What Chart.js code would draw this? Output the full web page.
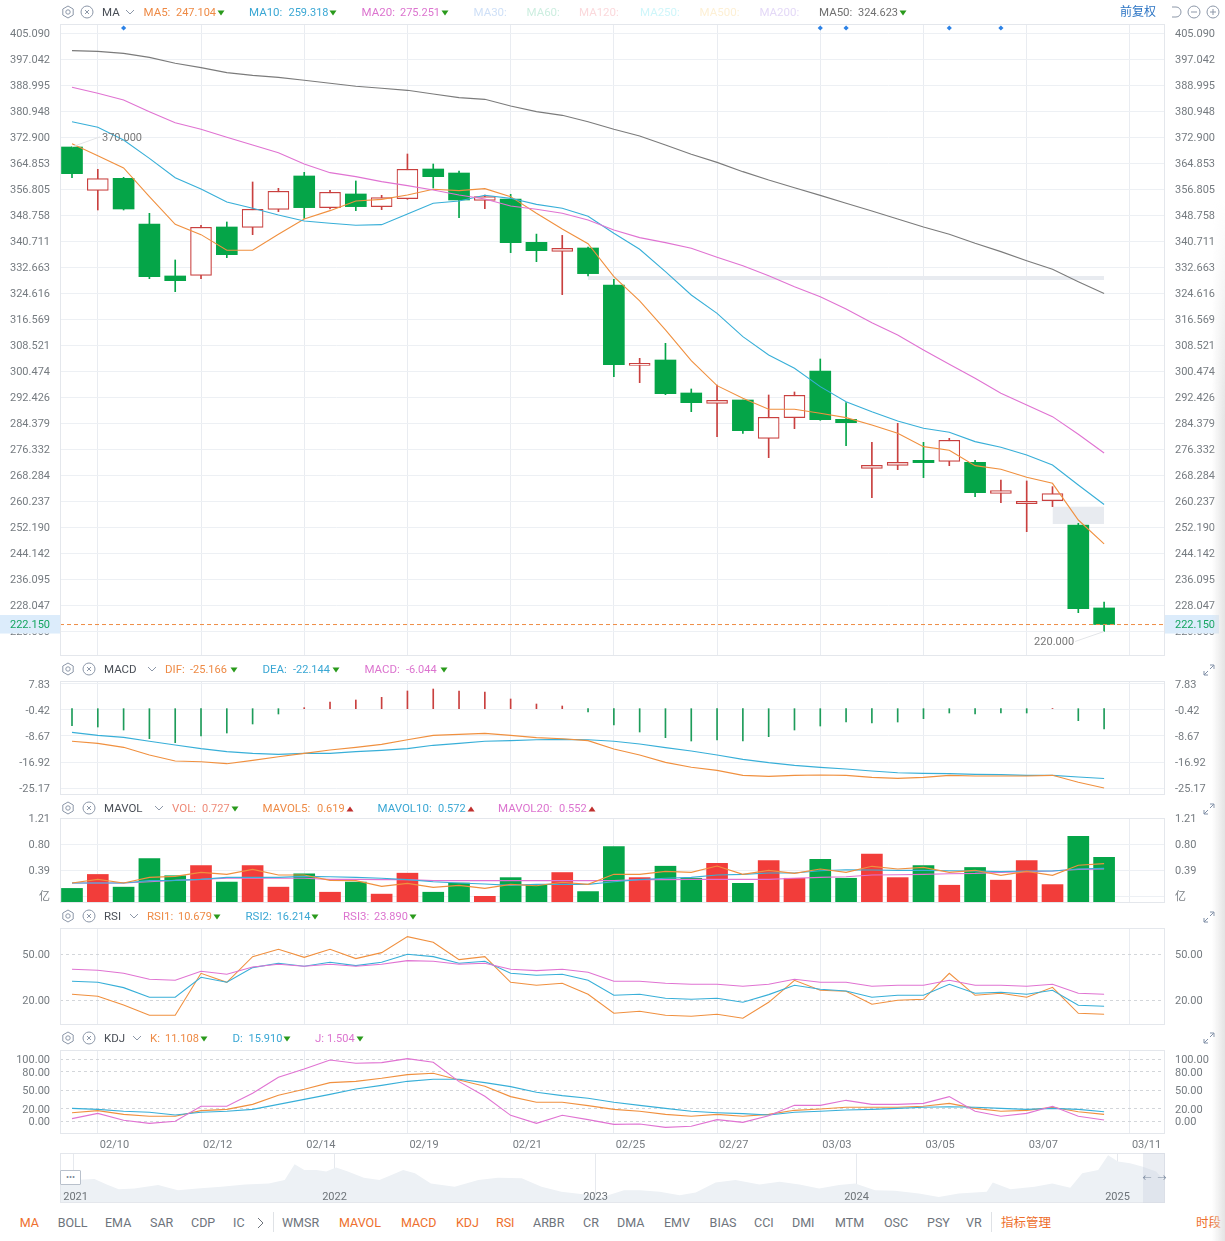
<!DOCTYPE html>
<html><head><meta charset="utf-8">
<script src="https://cdn.jsdelivr.net/npm/chart.js@4"></script>
<style>
html,body{margin:0;padding:0;background:#fff;width:1225px;height:1241px;overflow:hidden;font-family:Roboto,"Noto Sans CJK SC",sans-serif}
canvas{position:absolute;left:0}
svg{display:block}
.t{position:absolute;line-height:16px;white-space:nowrap}
.i{position:absolute}
</style></head><body>
<script>
// ---------- shared x positions ----------
const dayIndex=[0,1,2,3,4,5,6,7,8,9,10,11,12,13,14,15,16,17,18,19,20,21,22,23,24,25,26,27,28,29,30,31,32,33,34,35,36,37,38,39,40];
const xTickIndex=[1,5,9,13,17,21,25,29,33,37,41];
const xTickLabels=['02/10','02/12','02/14','02/19','02/21','02/25','02/27','03/03','03/05','03/07','03/11'];
// ---------- candles ----------
const open=[369.96,356.55,360.26,346.13,330.04,330.24,345.2,345.1,350.67,360.99,351.19,355.42,351.5,353.97,363.15,361.91,353.46,353.87,340.46,337.67,338.7,327.25,302.38,304.03,293.82,290.62,291.65,279.79,286.19,300.63,285.67,270.5,271.43,272.98,272.67,272.36,262.77,259.57,260.5,252.97,227.28];
const close=[361.71,360.16,350.77,329.83,328.59,345.1,336.64,350.67,356.24,351.19,355.93,351.5,354.28,363.05,360.78,353.56,354.59,340.35,337.87,338.6,330.76,302.59,303.0,293.61,290.83,291.55,282.16,286.29,293.1,285.57,284.64,271.43,272.36,272.26,279.17,262.97,263.59,260.29,262.66,227.07,222.15];
const high=[370,363.05,360.57,349.43,334.99,345.72,346.75,359.13,357.17,362.12,356.55,359.44,355.0,367.79,364.7,362.53,355.1,355.31,343.0,342.6,339.0,329.0,304.55,309.19,295.06,296.3,291.65,293.2,294.13,304.34,290.83,278.55,284.43,278.55,279.79,272.98,266.9,266.59,264.83,253.48,229.13];
const low=[360.47,350.46,350.46,329.21,325.18,329.21,335.71,342.83,349.95,347.88,350.77,350.26,350.57,353.76,357.27,348.09,350.87,337.26,334.47,324.26,330.04,298.87,297.02,293.3,288.04,280.3,281.34,273.8,282.78,285.36,277.52,261.43,270.09,267.62,271.33,261.73,259.88,250.9,258.64,225.83,220.0];
const ma5=[370.99,367.28,363.46,354.59,346.03,342.83,337.98,337.98,342.93,347.68,350.26,353.25,353.76,355.1,356.86,356.45,357.07,354.59,349.43,344.58,340.04,329.83,322.3,313.32,303.83,296.09,292.17,288.77,288.77,287.53,286.19,283.92,281.34,277.21,276.08,271.33,270.19,267.72,265.86,254.5,247.1];
const ma10=[377.8,376.05,372.13,366.45,360.47,356.96,352.94,350.98,348.92,347.06,346.34,345.72,345.92,349.22,352.53,353.25,355.0,354.07,352.2,350.98,348.5,343.24,338.29,331.38,324.16,318.48,311.26,305.58,301.46,295.78,291.14,288.04,285.15,282.88,281.65,278.76,277.0,274.63,271.53,265.35,259.32];
const ma20=[388.43,386.57,384.51,380.9,377.49,375.43,372.95,370.58,368.21,364.7,362.02,360.78,359.23,357.99,356.65,355.1,353.87,351.7,350.67,349.43,347.37,344.27,341.9,340.35,338.6,335.81,333.23,330.14,326.73,323.64,319.82,315.59,311.77,307.13,302.69,298.36,293.72,290.11,286.5,281.03,275.25];
const ma50=[399.78,399.57,398.95,397.71,395.86,394.52,392.97,392.14,391.52,390.6,389.67,388.74,388.12,387.5,386.37,385.23,384.71,382.65,380.9,379.76,377.8,375.43,373.37,370.58,367.69,365.2,362.33,359.75,357.37,354.98,352.53,350.15,347.68,345.2,342.93,340.15,337.57,334.78,332.1,328.28,324.62];
const priceTicks=[405.09,397.042,388.995,380.948,372.9,364.853,356.805,348.758,340.711,332.663,324.616,316.569,308.521,300.474,292.426,284.379,276.332,268.284,260.237,252.19,244.142,236.095,228.047,220];
const lastPrice=222.15;
const gapFrom=[20,38], gapTo=[40,40], gapTop=[330.03,258.64], gapBottom=[328.8,253.28];
const eventIndex=[2,29,30,34,36];
const eventLevel=406.79;
// ---------- MACD ----------
const dif=[-10.36,-11.0,-12.27,-14.7,-16.6,-16.82,-17.45,-16.39,-15.23,-14.17,-13.11,-12.27,-11.32,-9.84,-8.46,-8.14,-7.83,-8.46,-9.2,-9.52,-10.15,-12.8,-14.7,-17.03,-18.61,-19.57,-21.15,-21.47,-21.15,-21.05,-21.15,-21.79,-22.1,-21.79,-21.15,-21.36,-21.36,-21.36,-21.15,-23.37,-25.17];
const dea=[-7.51,-8.46,-9.1,-10.36,-11.53,-12.69,-13.64,-14.17,-14.49,-14.17,-14.17,-13.64,-13.22,-12.69,-11.63,-11.0,-10.36,-10.15,-9.84,-9.73,-9.84,-10.36,-11.21,-12.37,-13.43,-14.7,-16.08,-17.13,-17.98,-18.61,-19.14,-19.78,-20.31,-20.52,-20.62,-20.84,-20.94,-21.15,-21.15,-21.68,-22.14];
const macdHist=[-5.39,-5.82,-6.77,-9.52,-10.79,-8.67,-7.72,-4.86,-1.69,0.32,2.12,2.75,3.6,5.61,6.24,5.61,5.29,3.07,1.48,0.85,-1.06,-5.18,-7.4,-9.2,-10.26,-9.94,-10.26,-8.88,-6.77,-5.5,-4.23,-4.55,-4.23,-3.17,-1.37,-1.69,-1.37,-1.37,0.05,-3.81,-6.45];
const macdTicks=[7.83,-0.42,-8.67,-16.92,-25.17];
// ---------- MAVOL ----------
const vol=[0.10,0.32,0.12,0.57,0.30,0.46,0.20,0.46,0.12,0.33,0.04,0.20,0.01,0.34,0.04,0.185,-0.025,0.27,0.16,0.35,0.05,0.76,0.27,0.45,0.26,0.495,0.18,0.54,0.26,0.56,0.26,0.64,0.27,0.46,0.15,0.43,0.23,0.54,0.16,0.92,0.59];
const mavol5=[0.185,0.243,0.185,0.274,0.29,0.353,0.322,0.40,0.311,0.311,0.227,0.222,0.132,0.18,0.117,0.148,0.101,0.164,0.143,0.196,0.164,0.322,0.322,0.369,0.353,0.453,0.322,0.385,0.337,0.406,0.353,0.448,0.406,0.432,0.353,0.385,0.306,0.369,0.306,0.464,0.49];
const mavol10=[0.185,0.185,0.185,0.222,0.227,0.243,0.274,0.274,0.274,0.29,0.285,0.274,0.259,0.238,0.206,0.185,0.169,0.148,0.164,0.164,0.164,0.206,0.238,0.259,0.274,0.311,0.322,0.343,0.343,0.379,0.395,0.39,0.385,0.385,0.379,0.374,0.364,0.374,0.374,0.406,0.416];
const mavol20=[0.185,0.185,0.185,0.206,0.227,0.243,0.259,0.259,0.259,0.259,0.243,0.243,0.238,0.238,0.222,0.222,0.222,0.222,0.222,0.222,0.222,0.222,0.238,0.238,0.243,0.243,0.243,0.243,0.259,0.274,0.285,0.311,0.316,0.322,0.332,0.337,0.353,0.364,0.374,0.40,0.406];
const volTicks=[1.21,0.80,0.39,-0.02];
const volTickLabels=['1.21','0.80','0.39','亿'];
// ---------- RSI ----------
const rsi1=[23.91,22.61,16.95,10.21,10.21,37.6,31.74,48.47,53.26,48.04,53.26,47.17,51.08,61.52,57.82,46.52,48.47,31.74,29.78,31.08,23.91,11.52,12.82,10.21,9.56,10.87,8.26,18.69,33.04,26.52,25.87,17.39,20,20.65,37.6,23.26,24.56,21.95,28.47,11.52,10.87];
const rsi2=[32.39,31.74,28.26,21.95,21.95,35.0,31.74,41.3,44.13,42.17,44.78,42.6,44.78,50,48.47,44.13,45.43,37.6,36.3,36.95,33.04,23.26,23.91,21.3,20.65,21.3,18.69,23.69,29.78,27.17,26.08,21.95,23.26,23.26,30.43,24.56,25.21,23.91,26.52,16.74,16.08];
const rsi3=[40.21,39.56,37.6,33.69,33.04,38.91,36.95,41.73,43.47,42.17,43.47,42.17,43.47,45.87,45.43,43.47,44.13,40.21,39.34,40.21,38.26,32.39,32.39,31.08,30.43,30.43,29.13,30.43,33.69,31.74,31.74,29.13,29.78,29.78,33.04,29.78,29.78,29.13,30.43,24.56,23.91];
const rsiTicks=[50,20];
// ---------- KDJ ----------
const kLine=[13.5,16.8,10.8,7.6,7.6,16.8,18.9,27.0,41.6,51.4,62.2,64.3,69.2,75.1,77.3,66.5,56.2,39.5,30.3,30.3,24.9,18.9,15.7,10.8,7.6,10.8,7.6,10.8,17.3,19.5,22.2,22.2,22.2,23.8,28.6,20.5,15.7,17.3,22.2,15.1,10.8];
const dLine=[20.5,18.9,15.7,14.1,9.7,14.1,15.7,18.9,27,35.1,43.2,51.9,57.8,64.3,67.6,67.6,62.2,55.7,46.5,41.1,36.8,30.3,25.4,20.5,15.7,13.5,11.9,9.7,14.1,15.7,17.8,18.9,20.5,22.2,23.2,22.2,20.5,18.9,20.5,18.9,15.1];
const jLine=[3.8,12.4,1.1,-3.8,-0.5,23.8,23.8,44.9,70.8,84.3,98.9,93.5,94.6,101.1,95.1,63.8,40,9.2,-3.8,9.2,2.2,-5.4,-4.9,-10.3,-8.6,2.2,-2.2,8.6,25.4,25.4,33.5,27,27,28.6,39.5,15.7,7.6,12.4,23.8,7.6,1.5];
const kdjTicks=[100,80,50,20,0];
// ---------- navigator ----------
const navYears=[2020.948,2021,2021.08,2021.127,2021.173,2021.233,2021.324,2021.4,2021.475,2021.566,2021.657,2021.748,2021.809,2021.847,2021.884,2021.93,2021.968,2022.006,2022.051,2022.112,2022.172,2022.218,2022.263,2022.308,2022.369,2022.46,2022.551,2022.626,2022.717,2022.793,2022.869,2022.96,2023.017,2023.048,2023.109,2023.17,2023.246,2023.322,2023.384,2023.46,2023.536,2023.628,2023.705,2023.781,2023.857,2023.933,2023.995,2024.071,2024.147,2024.239,2024.315,2024.392,2024.499,2024.522,2024.59,2024.682,2024.75,2024.819,2024.865,2024.926,2024.964,2025.002,2025.048,2025.094,2025.148,2025.182];
const navValues=[63,68,71,55,41,43,53,38,43,48,55,58,68,115,98,98,93,105,93,75,68,83,98,88,58,48,68,75,73,48,33,25,15,23,38,38,33,23,31,61,68,55,63,55,43,53,58,38,36,28,18,28,33,61,41,48,58,45,88,98,141,123,118,108,93,63];
const navTicks=[2021,2022,2023,2024,2025];

// ---------- colours ----------
const GREEN='#05a548',RED='#f23d3a',WICKRED='#c9403f',ORANGE='#f0903f',BLUE='#38afd8',PINK='#e073d2',GRAY='#7b7b7b';
const GRID='#edf0f4',BORDER='#e4e7ec',TICK='#757b80';
Chart.defaults.font.family='Roboto,"Noto Sans CJK SC",sans-serif';
Chart.defaults.font.size=11;

const xMin=-0.465,xMax=42.36;
const isUp=i=>close[i]>=open[i];
const line=(data,color,order=1,w=1.1)=>({type:'line',data,borderColor:color,borderWidth:w,pointRadius:0,tension:0,fill:false,order});

const frame={id:'frame',afterDraw(c){const a=c.chartArea,x=c.ctx;x.save();x.strokeStyle=BORDER;x.lineWidth=1;x.strokeRect(a.left+.5,a.top+.5,a.right-a.left-1,a.bottom-a.top-1);x.restore();}};

function nudgeLabels(s){
  if(s._nudged)return;s._nudged=true;
  const orig=s._computeLabelItems;
  s._computeLabelItems=function(a){const items=orig.call(this,a);items.forEach(it=>{const t=it.options.translation;it.options.translation=[t[0],t[1]+1.2];});return items;};
}

function panel(o){
  const pad=10,cv=document.createElement('canvas');
  const below=o.xLabels?18:pad;
  const h=o.bottom-o.top+pad+below;
  cv.width=1225;cv.height=h;cv.style.width='1225px';cv.style.height=h+'px';cv.style.top=(o.top-pad)+'px';
  document.body.appendChild(cv);
  const yCommon={type:'linear',min:o.min,max:o.max,bounds:'data',
    afterFit:s=>{s.width=60;s.paddingTop=0;s.paddingBottom=0;if(s._margins){s._margins.top=0;s._margins.bottom=0;}nudgeLabels(s);},
    afterBuildTicks:s=>{s.ticks=o.yTicks.map(v=>({value:v}))},
    ticks:{callback:o.fmt,autoSkip:false,color:TICK,padding:10,font:{size:11}},
    border:{display:false,dash:o.dashed?[3,3]:undefined}};
  const scales={
    x:{type:'linear',offset:false,min:xMin,max:xMax,bounds:'data',
      afterBuildTicks:s=>{s.ticks=xTickIndex.map(v=>({value:v}))},
      ticks:{display:false,autoSkip:false},
      grid:{offset:false,color:'#e9ecf1',drawTicks:false},border:{display:false}},
    y:Object.assign({},yCommon,{position:'left',grid:{color:o.dashed?'#d3d6da':GRID,drawTicks:false}}),
    yr:Object.assign({},yCommon,{position:'right',grid:{display:false,drawTicks:false}})
  };
  if(o.xLabels){
    scales.xl={type:'linear',axis:'x',offset:false,position:'bottom',min:xMin-2/25.8,max:xMax-2/25.8,bounds:'data',
      afterFit:s=>{s.height=18},
      afterBuildTicks:s=>{s.ticks=xTickIndex.map(v=>({value:v}))},
      ticks:{callback:v=>xTickLabels[xTickIndex.indexOf(v)],align:'start',autoSkip:false,maxRotation:0,minRotation:0,color:TICK,padding:5,font:{size:11}},
      grid:{display:false,drawTicks:false},border:{display:false}};
  }
  return new Chart(cv,{data:{labels:dayIndex,datasets:o.datasets},plugins:[frame].concat(o.plugins||[]),
    options:{responsive:false,animation:false,devicePixelRatio:1,events:[],
      layout:{autoPadding:false,padding:{top:pad,bottom:o.xLabels?0:pad,left:0,right:0}},
      plugins:{legend:{display:false},tooltip:{enabled:false}},scales}});
}

// ---------- main panel ----------
const overlay={id:'overlay',afterDatasetsDraw(c){
  const x=c.ctx,sx=c.scales.x,sy=c.scales.y;
  x.save();x.font='11px Roboto';x.textBaseline='middle';
  const note=(i,v,dx,dy,txt,al)=>{const px=sx.getPixelForValue(i),py=sy.getPixelForValue(v);
    x.strokeStyle='#e3e5e8';x.lineWidth=1;x.beginPath();x.moveTo(px,py);x.lineTo(px+dx,py+dy);x.stroke();
    x.fillStyle='#777';x.textAlign=al;x.fillText(txt,px+dx+(al==='left'?2:-1),py+dy+1);};
  note(0,high[0],28,-10,'370.000','left');
  note(40,low[40],-29,10,'220.000','right');
  const py=sy.getPixelForValue(lastPrice);
  x.fillStyle='#dcecfb';x.fillRect(0,py-9.5,60,18.5);x.fillRect(1165,py-9.5,54,18.5);
  x.fillStyle='#16a561';x.textAlign='right';x.fillText(lastPrice.toFixed(3),50,py+1);
  x.textAlign='left';x.fillText(lastPrice.toFixed(3),1175,py+1);
  x.restore();
}};
const gapSets=[];
gapFrom.forEach((f,k)=>{
  gapSets.push({type:'line',data:[{x:f,y:gapTop[k]},{x:gapTo[k],y:gapTop[k]}],borderWidth:0,pointRadius:0,tension:0,backgroundColor:'#e8ebf0',fill:'+1',order:6});
  gapSets.push({type:'line',data:[{x:f,y:gapBottom[k]},{x:gapTo[k],y:gapBottom[k]}],borderWidth:0,pointRadius:0,tension:0,fill:false,order:6});
});
panel({top:24,bottom:656,min:212.41,max:408.03,yTicks:priceTicks,fmt:v=>v.toFixed(3),plugins:[overlay],datasets:[
  ...gapSets,
  {type:'bar',grouped:false,data:dayIndex.map(i=>[low[i],high[i]]),barThickness:1,backgroundColor:dayIndex.map(i=>isUp(i)?WICKRED:GREEN),order:5},
  {type:'bar',grouped:false,data:dayIndex.map(i=>[Math.min(open[i],close[i]),Math.max(open[i],close[i])]),barThickness:21,
    backgroundColor:dayIndex.map(i=>isUp(i)?'#fff':GREEN),borderColor:dayIndex.map(i=>isUp(i)?WICKRED:GREEN),borderWidth:dayIndex.map(i=>isUp(i)?1.2:0),borderSkipped:false,order:4},
  line(ma50,GRAY),line(ma20,PINK),line(ma10,BLUE),line(ma5,ORANGE),
  {type:'line',data:[{x:xMin,y:lastPrice},{x:xMax,y:lastPrice}],borderColor:'#ee8d45',borderWidth:1,borderDash:[4,3],pointRadius:0,order:0},
  {type:'line',showLine:false,data:eventIndex.map(i=>({x:i,y:eventLevel})),pointStyle:'rectRot',pointRadius:2.6,pointBackgroundColor:'#2c82e6',pointBorderWidth:0,order:0}
]});
// ---------- MACD panel ----------
panel({top:681,bottom:795,min:-27.39,max:8.78,yTicks:macdTicks,fmt:v=>v.toFixed(2),datasets:[
  {type:'bar',grouped:false,data:macdHist,barThickness:1,backgroundColor:macdHist.map(v=>v>=0?WICKRED:'#1e9c5a'),order:3},
  line(dif,ORANGE),line(dea,BLUE)
]});
// ---------- MAVOL panel ----------
panel({top:818,bottom:903,min:-0.13,max:1.21,yTicks:volTicks,fmt:v=>volTickLabels[volTicks.indexOf(v)],datasets:[
  {type:'bar',grouped:false,data:vol,base:-0.13,barThickness:21,backgroundColor:dayIndex.map(i=>isUp(i)?RED:GREEN),order:3},
  line(mavol5,ORANGE),line(mavol10,BLUE),line(mavol20,PINK)
]});
// ---------- RSI panel ----------
panel({top:928,bottom:1025,min:3.89,max:67.15,yTicks:rsiTicks,fmt:v=>v.toFixed(2),dashed:true,datasets:[line(rsi3,PINK),line(rsi2,BLUE),line(rsi1,ORANGE)]});
// ---------- KDJ panel ----------
panel({top:1050,bottom:1134,min:-21.06,max:115.07,yTicks:kdjTicks,fmt:v=>v.toFixed(2),dashed:true,xLabels:true,datasets:[line(jLine,PINK),line(dLine,BLUE),line(kLine,ORANGE)]});

// ---------- navigator ----------
(function(){
  const cv=document.createElement('canvas');cv.width=1225;cv.height=50;cv.style.width='1225px';cv.style.height='50px';cv.style.top='1153px';
  document.body.appendChild(cv);
  const yearLabels={id:'yearLabels',afterDraw(c){const x=c.ctx,s=c.scales.x;x.save();x.font='11px Roboto';x.fillStyle='#6d7378';x.textAlign='center';x.textBaseline='middle';
    navTicks.forEach(y=>x.fillText(String(y),s.getPixelForValue(y)+(y===2021?2:0),44));x.restore();}};
  new Chart(cv,{type:'line',data:{labels:navYears,datasets:[{data:navValues,borderWidth:0,pointRadius:0,tension:0,fill:true,backgroundColor:'#edf1f5'}]},plugins:[frame,yearLabels],
    options:{responsive:false,animation:false,devicePixelRatio:1,events:[],layout:{autoPadding:false,padding:{left:60,right:60,top:0,bottom:0}},
      plugins:{legend:{display:false},tooltip:{enabled:false}},
      scales:{x:{type:'linear',min:2020.948,max:2025.182,bounds:'data',afterBuildTicks:s=>{s.ticks=navTicks.map(v=>({value:v}))},ticks:{display:false},grid:{color:'#e6e9ee',drawTicks:false},border:{display:false}},
              y:{display:false,min:0,max:148}}}});
})();

// ---------- html text ----------
function T(x,y,s,c,size,extra){const d=document.createElement('div');d.className='t';d.textContent=s;d.style.cssText=`left:${x}px;top:${y-8}px;color:${c};font-size:${size||11.5}px;${extra||''}`;document.body.appendChild(d);return d;}
function SVG(x,y,w,h,inner){const d=document.createElement('div');d.className='i';d.style.cssText=`left:${x}px;top:${y}px;width:${w}px;height:${h}px`;d.innerHTML=`<svg width="${w}" height="${h}" viewBox="0 0 ${w} ${h}" xmlns="http://www.w3.org/2000/svg">${inner}</svg>`;document.body.appendChild(d);}
const IC='#8c97a8';
function gear(cx,cy){SVG(cx-7,cy-7,14,14,`<polygon points="7,1 12.2,4 12.2,10 7,13 1.8,10 1.8,4" fill="none" stroke="${IC}" stroke-width="1"/><circle cx="7" cy="7" r="2.2" fill="none" stroke="${IC}"/>`);}
function xc(cx,cy){SVG(cx-7,cy-7,14,14,`<circle cx="7" cy="7" r="6" fill="none" stroke="${IC}"/><path d="M5 5L9 9M9 5L5 9" stroke="${IC}" fill="none"/>`);}
function chev(cx,cy){SVG(cx-5,cy-3,10,6,`<path d="M1 1L5 5L9 1" stroke="${IC}" fill="none"/>`);}
function arrow(cx,cy,up){const c=up?'#c0302e':'#2a9a1c';SVG(cx-4,cy-3,8,6,up?`<polygon points="4,0.5 7.5,5.5 0.5,5.5" fill="${c}"/>`:`<polygon points="0.5,0.5 7.5,0.5 4,5.5" fill="${c}"/>`);}
function expand(cx,cy){SVG(cx-6,cy-6,12,12,`<path d="M7 1H11V5M11 1L7 5M1 7V11H5M1 11L5 7" stroke="#7f8ea6" fill="none"/>`);}

const cOr='#ee8a45',cBl='#3aa7d4',cPk='#dc74cf',cGy='#707070',cDk='#4a4f57';
// row: name, list of [label,labelX,value,valueX,arrowX,color,up]
function row(y,gx,xx,name,nx,chx,items){
  gear(gx,y);xc(xx,y);T(nx,y,name,cDk,11.5);chev(chx,y);
  items.forEach(it=>{T(it[1],y,it[0],it[5]);T(it[3],y+1,it[2],it[5],11);arrow(it[4],y+1,it[6]);});
}
row(12,67.5,87,'MA',102,130,[['MA5:',143.5,'247.104',176,221,cOr,false],['MA10:',249,'259.318',288.5,333,cBl,false],['MA20:',361.6,'275.251',400,444.7,cPk,false],['MA50:',819,'324.623',858,903,cGy,false]]);
[['MA30:',473.5,'#cfe0f7'],['MA60:',526.5,'#cdeee0'],['MA120:',579,'#fbd9dc'],['MA250:',640,'#cff6fa'],['MA500:',699.6,'#fdf0d5'],['MA200:',759.4,'#e4d9f7']].forEach(a=>T(a[1],12,a[0],a[2]));
T(1120,12,'前复权','#2b74c4',12);
SVG(1169,5,14,14,`<path d="M3 2H7A5 5 0 0 1 7 12H3" stroke="${IC}" fill="none"/>`);
SVG(1187,5,14,14,`<circle cx="7" cy="7" r="6" fill="none" stroke="${IC}"/><path d="M4 7H10" stroke="${IC}"/>`);
SVG(1206,5,14,14,`<circle cx="7" cy="7" r="6" fill="none" stroke="${IC}"/><path d="M4 7H10M7 4V10" stroke="${IC}"/>`);

row(669,67.5,89,'MACD',104,152,[['DIF:',165,'-25.166',190,233.6,cOr,false],['DEA:',262.5,'-22.144',293,336,cBl,false],['MACD:',364.4,'-6.044',406,443.5,cPk,false]]);
row(808,67.5,89,'MAVOL',104,159,[['VOL:',172,'0.727',202,235,'#ee8a78',false],['MAVOL5:',262.5,'0.619',317,349.5,cOr,true],['MAVOL10:',377.5,'0.572',438,471,cBl,true],['MAVOL20:',498,'0.552',559,592,cPk,true]]);
row(916,67.5,89,'RSI',104,134,[['RSI1:',147,'10.679',178,216.6,cOr,false],['RSI2:',245.5,'16.214',276.7,314.6,cBl,false],['RSI3:',343,'23.890',374,412.6,cPk,false]]);
row(1038,67.5,89,'KDJ',104,137,[['K:',150,'11.108',165,204,cOr,false],['D:',232.4,'15.910',248.6,286.6,cBl,false],['J:',315,'1.504',327,360,cPk,false]]);
[670,809,917,1038].forEach(y=>expand(1209,y));

// navigator chrome
(function(){
  const sel=document.createElement('div');sel.className='i';sel.style.cssText='left:1143px;top:1153px;width:22px;height:50px;background:rgba(205,213,226,.4)';document.body.appendChild(sel);
  T(1142.5,1178,'←','#7d8ba0',9);T(1157.5,1178,'→','#7d8ba0',9);
  const b=document.createElement('div');b.className='t';b.textContent='•••';b.style.cssText='left:60px;top:1170px;width:19px;height:13px;line-height:13px;border:1px solid #b9c1cc;background:#fff;color:#7a8494;font-size:9px;text-align:center;border-radius:1px';document.body.appendChild(b);
})();

// bottom tabs
const tabNames=['MA','BOLL','EMA','SAR','CDP','IC','WMSR','MAVOL','MACD','KDJ','RSI','ARBR','CR','DMA','EMV','BIAS','CCI','DMI','MTM','OSC','PSY','VR','指标管理','时段'];
const tabX=[19.8,57.7,105,150,191,233,282,339,401,456,496,533,583,617,664,709.6,754,792,835,884,927,966,1001,1196];
const tabOn=['MA','MAVOL','MACD','KDJ','RSI','指标管理','时段'];
tabNames.forEach((n,i)=>T(tabX[i],1222.5,n,tabOn.includes(n)?'#ee6f2d':'#6e747c',12.5));
SVG(256,1216,9,14,`<path d="M2 2L7 7L2 12" stroke="#6e747c" fill="none"/>`);
[[273,1212],[991,1212]].forEach(p=>{const s=document.createElement('div');s.className='i';s.style.cssText=`left:${p[0]}px;top:${p[1]}px;width:1px;height:20px;background:#dfe2e6`;document.body.appendChild(s);});

// right edge shadow
(function(){const s=document.createElement('div');s.className='i';s.style.cssText='right:0;top:0;width:13px;height:1241px;background:linear-gradient(90deg,rgba(225,225,225,0),rgba(225,225,225,.9));-webkit-mask-image:linear-gradient(180deg,transparent 200px,#000 420px)';document.body.appendChild(s);})();
</script>
</body></html>
